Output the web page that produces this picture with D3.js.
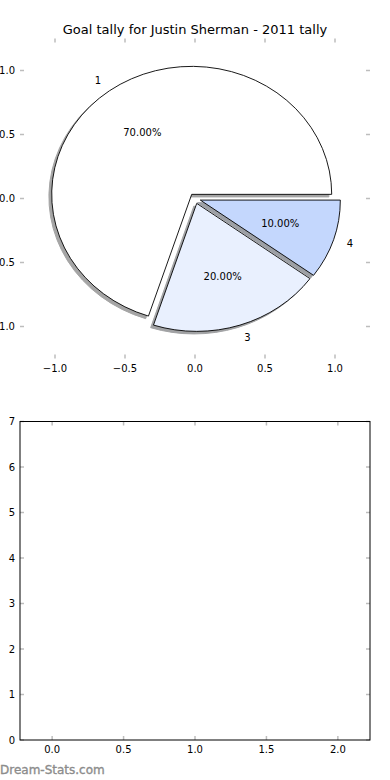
<!DOCTYPE html>
<html>
<head>
<meta charset="utf-8">
<script src="https://cdn.jsdelivr.net/npm/d3@7"></script>
<style>
  body { margin: 0; background: #fff; }
  text { font-family: "DejaVu Sans", sans-serif; fill: #000; }
</style>
</head>
<body>
<div id="container"></div>
<script>
// data
var categories = ["1", "3", "4"];
var goalCounts = [7, 2, 1];
var sliceColors = ["#ffffff", "#e9f0fe", "#c4d7fd"];
var explode = [0.04, 0.04, 0.04];
var pieTicks = [-1.0, -0.5, 0.0, 0.5, 1.0];
var barXTicks = [0.0, 0.5, 1.0, 1.5, 2.0];
var barYTicks = [0, 1, 2, 3, 4, 5, 6, 7];

var W = 390, H = 780;
var svg = d3.select("#container").append("svg")
    .attr("width", W).attr("height", H);

// ---------- pie axes ----------
var pie = {left: 20, right: 370, top: 38.5, bottom: 358.5};
var px = d3.scaleLinear().domain([-1.25, 1.25]).range([pie.left, pie.right]);
var py = d3.scaleLinear().domain([-1.25, 1.25]).range([pie.bottom, pie.top]);

svg.append("text")
    .attr("x", (pie.left + pie.right) / 2)
    .attr("y", 34)
    .attr("text-anchor", "middle")
    .style("font-size", "13px")
    .text("Goal tally for Justin Sherman - 2011 tally");

var fmt1 = d3.format(".1f");
var tickCol = "#bdbdbd";

function inwardTicks(g, xs, ys, x, y, box, xfmt, yfmt) {
  xs.forEach(function(v) {
    g.append("line").attr("x1", x(v)).attr("x2", x(v)).attr("y1", box.top).attr("y2", box.top + 4)
      .attr("stroke", tickCol).attr("stroke-width", 1.5);
    g.append("line").attr("x1", x(v)).attr("x2", x(v)).attr("y1", box.bottom).attr("y2", box.bottom - 4)
      .attr("stroke", tickCol).attr("stroke-width", 1.5);
    g.append("text").attr("x", x(v)).attr("y", box.bottom + 6).attr("dy", "0.71em")
      .attr("text-anchor", "middle").style("font-size", "10px").text(xfmt(v));
  });
  ys.forEach(function(v) {
    g.append("line").attr("x1", box.left).attr("x2", box.left + 4).attr("y1", y(v)).attr("y2", y(v))
      .attr("stroke", tickCol).attr("stroke-width", 1.5);
    g.append("line").attr("x1", box.right).attr("x2", box.right - 4).attr("y1", y(v)).attr("y2", y(v))
      .attr("stroke", tickCol).attr("stroke-width", 1.5);
    g.append("text").attr("x", box.left - 5).attr("y", y(v)).attr("dy", "0.35em")
      .attr("text-anchor", "end").style("font-size", "10px").text(yfmt(v));
  });
}

var pieAxes = svg.append("g");
inwardTicks(pieAxes, pieTicks, pieTicks, px, py, pie, fmt1, fmt1);

// d3 angle = pi/2 - matplotlib angle, going counter-clockwise from east
var pieGen = d3.pie().sort(null)
    .startAngle(Math.PI / 2)
    .endAngle(Math.PI / 2 - 2 * Math.PI);
var arcs = pieGen(goalCounts);
var total = d3.sum(goalCounts);
var arcGen = d3.arc().innerRadius(0).outerRadius(1);

var sx = px(1) - px(0), sy = py(0) - py(1);
var pieG = svg.append("g")
    .attr("transform", "translate(" + px(0) + "," + py(0) + ") scale(" + sx + "," + sy + ")");

function midTheta(d) { return Math.PI / 2 - (d.startAngle + d.endAngle) / 2; }

function shade(c) {
  var r = d3.rgb(c);
  return d3.rgb(r.r * 0.3, r.g * 0.3, r.b * 0.3).toString();
}

// shadows first
pieG.selectAll(".shadow")
  .data(arcs)
  .enter()
  .append("path")
    .attr("class", "shadow")
    .attr("transform", function(d, i) {
      var t = midTheta(d);
      return "translate(" + (explode[i] * Math.cos(t) - 0.02) + "," + (-explode[i] * Math.sin(t) + 0.02) + ")";
    })
    .attr("d", arcGen)
    .attr("fill", function(d, i) { return shade(sliceColors[i]); })
    .attr("stroke", function(d, i) { return shade(sliceColors[i]); })
    .attr("stroke-width", 1)
    .attr("vector-effect", "non-scaling-stroke")
    .attr("opacity", 0.5);

pieG.selectAll(".wedge")
  .data(arcs)
  .enter()
  .append("path")
    .attr("class", "wedge")
    .attr("transform", function(d, i) {
      var t = midTheta(d);
      return "translate(" + (explode[i] * Math.cos(t)) + "," + (-explode[i] * Math.sin(t)) + ")";
    })
    .attr("d", arcGen)
    .attr("fill", function(d, i) { return sliceColors[i]; })
    .attr("stroke", "#000")
    .attr("stroke-width", 0.9)
    .attr("vector-effect", "non-scaling-stroke");

// labels
arcs.forEach(function(d, i) {
  var t = midTheta(d);
  var cx = explode[i] * Math.cos(t), cy = explode[i] * Math.sin(t);
  var lx = cx + 1.1 * Math.cos(t), ly = cy + 1.1 * Math.sin(t);
  svg.append("text")
    .attr("x", px(lx)).attr("y", py(ly)).attr("dy", "0.35em")
    .attr("text-anchor", lx > 0 ? "start" : "end")
    .style("font-size", "10px")
    .text(categories[i]);
  var qx = cx + 0.6 * Math.cos(t), qy = cy + 0.6 * Math.sin(t);
  svg.append("text")
    .attr("x", px(qx)).attr("y", py(qy)).attr("dy", "0.35em")
    .attr("text-anchor", "middle")
    .style("font-size", "10px")
    .text(d3.format(".2f")(100 * d.value / total) + "%");
});

// ---------- empty bar axes ----------
var bar = {left: 20, right: 370, top: 421.5, bottom: 740};
var bx = d3.scaleLinear().domain([-0.225, 2.225]).range([bar.left, bar.right]);
var by = d3.scaleLinear().domain([0, 7]).range([bar.bottom, bar.top]);

var barAxes = svg.append("g");
inwardTicks(barAxes, barXTicks, barYTicks, bx, by, bar, fmt1, d3.format("d"));

barAxes.append("rect")
    .attr("x", bar.left).attr("y", bar.top)
    .attr("width", bar.right - bar.left).attr("height", bar.bottom - bar.top)
    .attr("fill", "none").attr("stroke", "#000").attr("stroke-width", 1);

svg.append("text")
    .attr("x", 0).attr("y", 774)
    .style("font-size", "12px")
    .style("fill", "#8c8c8c")
    .style("stroke", "#8c8c8c")
    .style("stroke-width", 0.35)
    .text("Dream-Stats.com");
</script>
</body>
</html>
